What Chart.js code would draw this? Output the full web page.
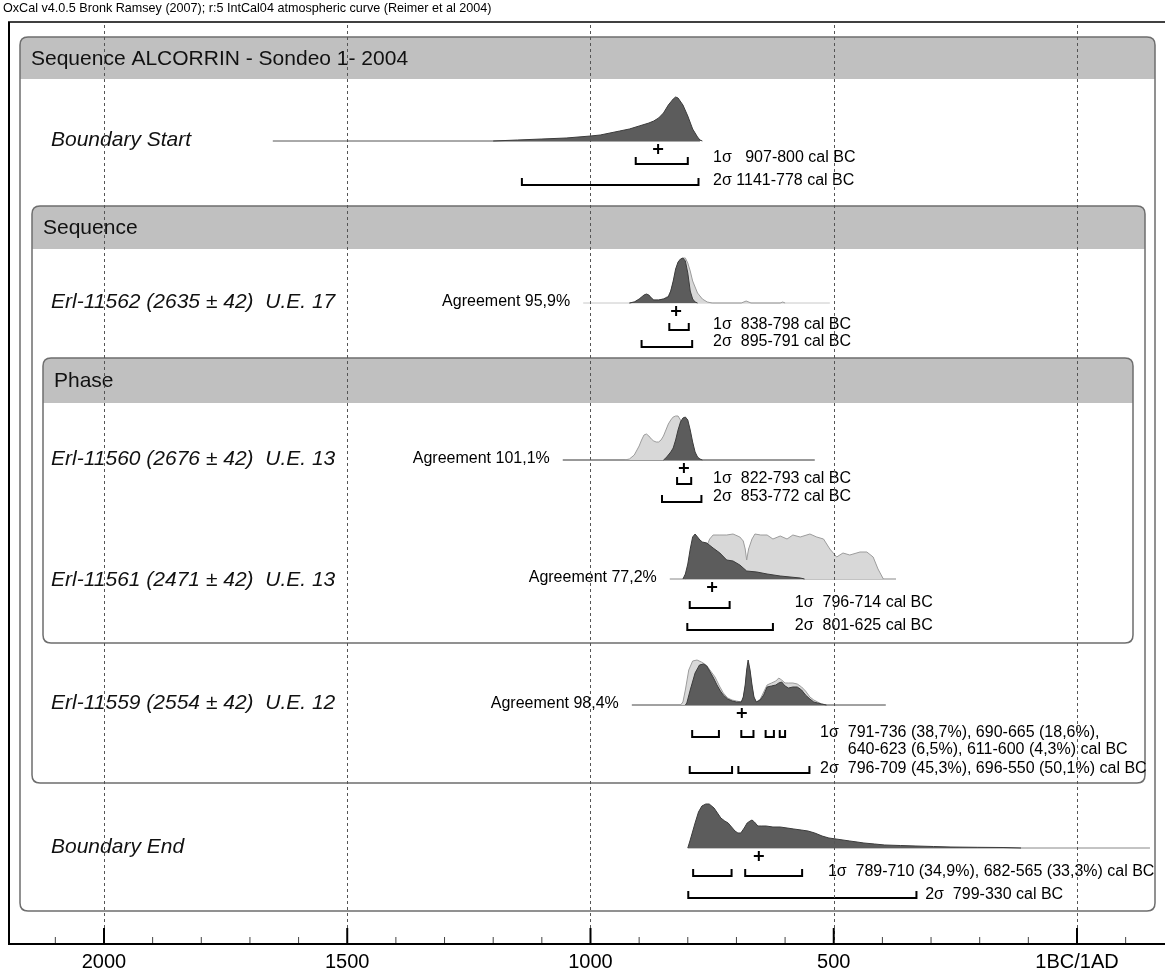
<!DOCTYPE html>
<html><head><meta charset="utf-8">
<script src="https://cdn.jsdelivr.net/npm/chart.js@4.4.1/dist/chart.umd.min.js"></script>
<style>html,body{margin:0;padding:0;background:#fff;}canvas{display:block;}</style>
</head><body>
<canvas id="c" width="1165" height="974"></canvas>
<script>
const FONT = '"Liberation Sans", Arial, Helvetica, sans-serif';

// ---------- texts ----------
const caption = 'OxCal v4.0.5 Bronk Ramsey (2007); r:5 IntCal04 atmospheric curve (Reimer et al 2004)';
const groupTitles = ['Sequence ALCORRIN - Sondeo 1- 2004', 'Sequence', 'Phase'];
const rowNames = ['Boundary Start', 'Erl-11562 (2635 ± 42)  U.E. 17', 'Erl-11560 (2676 ± 42)  U.E. 13',
  'Erl-11561 (2471 ± 42)  U.E. 13', 'Erl-11559 (2554 ± 42)  U.E. 12', 'Boundary End'];
const agreements = [null, 'Agreement 95,9%', 'Agreement 101,1%', 'Agreement 77,2%', 'Agreement 98,4%', null];

// ---------- summary values (years cal BC; negative = AD) ----------
const meanYears = [861, 824, 808, 750, 689, 654];
const sigma1Ranges = [[[907, 800]], [[838, 798]], [[822, 793]], [[796, 714]],
  [[791, 736], [690, 665], [640, 623], [611, 600]], [[789, 710], [682, 565]]];
const sigma2Ranges = [[[1141, 778]], [[895, 791]], [[853, 772]], [[801, 625]],
  [[796, 709], [696, 550]], [[799, 330]]];
const sigma1Labels = [['1σ   907-800 cal BC'], ['1σ  838-798 cal BC'], ['1σ  822-793 cal BC'], ['1σ  796-714 cal BC'],
  ['1σ  791-736 (38,7%), 690-665 (18,6%),', '640-623 (6,5%), 611-600 (4,3%) cal BC'],
  ['1σ  789-710 (34,9%), 682-565 (33,3%) cal BC']];
const sigma2Labels = ['2σ 1141-778 cal BC', '2σ  895-791 cal BC', '2σ  853-772 cal BC', '2σ  801-625 cal BC',
  '2σ  796-709 (45,3%), 696-550 (50,1%) cal BC', '2σ  799-330 cal BC'];
const sigma1TextYears = [748, 748, 748, 580, 528, 512];
const sigma2TextYears = [748, 748, 748, 580, 528, 312];
const lineRanges = [[1653, 775], [1015, 508], [1057, 539], [837, 372], [915, 393], [800, -150]];

// ---------- axis ----------
const axisMajorYears = [2000, 1500, 1000, 500, 0];
const axisMinorStep = 100;
const axisMin = -2197.3, axisMax = 180.9;

// ---------- probability distributions (relative heights) ----------
const bStartYears = [1200,1150,1100,1050,1000,980,960,940,920,900,880,870,860,850,840,830,825,820,810,800,790,780,775,770];
const bStartPost  = [0,1,2,3,5,6,8,10,12,15,18,20,23,28,36,42,44,43,36,25,12,4,1,0];

const e62Years = [920,910,900,890,885,880,875,870,860,850,840,835,830,825,820,815,810,805,800,795,790,785,780];
const e62Post  = [0,1,4,8,9,8,5,3,3,4,6,12,22,34,41,44,45,42,30,12,4,1,0];
const e62LYears = [920,910,900,890,885,880,870,860,850,840,835,830,825,820,815,810,805,800,795,790,780,770,760,750,690,680,670,610,605,600];
const e62Like   = [0,1,3,7,8,7,3,3,4,7,12,20,30,38,43,45,45,40,32,22,10,4,1,0,0,2,0,0,1,0];

const e60LYears = [930,920,910,900,895,890,885,880,875,870,865,860,855,850,845,840,835,830,825,820,815,810,805,800,790,780,770];
const e60Like   = [0,1,5,14,20,25,26,24,21,19,18,18,20,24,30,36,40,43,44,44,40,30,18,10,4,1,0];
const e60Years = [850,845,840,835,830,825,820,815,810,805,800,795,790,785,780,775,770];
const e60Post  = [0,2,5,8,12,20,30,38,42,43,40,30,18,8,3,1,0];

const e61Years = [810,805,800,795,790,785,780,775,770,761,748,734,720,707,693,679,658,637,610,569,560];
const e61Post  = [0,5,15,30,42,45,42,39,37,36,31,26,19,18,14,8,7,5,3,1,0];
const e61LYears = [805,800,790,782,775,768,761,755,748,734,720,707,693,686,682,679,675,668,662,650,637,625,610,596,584,569,549,535,521,508,494,481,467,446,432,419,409,398];
const e61Like   = [0,2,5,9,18,26,33,40,44,44,44,45,42,38,30,19,30,40,45,44,44,40,43,40,44,42,45,42,40,30,22,26,24,27,27,22,10,0];

const e59Years = [805,802,795,785,776,768,761,754,747,740,733,727,718,709,700,690,686,682,679,676,672,668,664,659,651,644,637,628,619,613,607,600,593,584,575,566,558,549,541,533,525,515];
const e59Post  = [0,2,15,32,40,41,39,33,27,20,14,10,6,4,3,3,8,20,35,45,35,20,8,3,5,10,18,19,20,22,23,19,17,18,18,15,10,6,3,2,1,0];
const e59LYears = [815,810,805,798,790,781,772,762,753,744,735,727,718,709,700,690,686,682,679,676,672,668,664,659,651,644,637,628,619,613,607,600,593,584,575,566,558,549,541,533,525,515];
const e59Like   = [0,3,15,35,44,45,43,40,34,28,19,12,7,5,4,3,7,18,32,42,32,18,7,3,6,13,20,22,24,27,25,22,22,22,21,18,14,8,5,3,1,0];

const bEndYears = [800,795,785,778,771,763,756,746,739,732,724,717,710,703,697,691,684,678,672,668,663,656,648,639,625,610,596,582,567,553,539,524,510,495,481,467,452,438,416,395,363,331,295,259,205,152,115];
const bEndPost  = [0,8,25,36,42,44,44,40,35,30,27,25,21,17,15,15,20,25,27,28,26,22,22,22,21,21,20,19,18,17,15,12,10,9,8,7,6,5,4,3,2.5,2,1.5,1,0.7,0.5,0];

// ---------- layout (page pixels) ----------
const rowLayout = [
  {base:141, label:140, s1:164, s1t:158, s2:185, s2t:181, lineColor:'#555'},
  {base:303, label:302, s1:330, s1t:325, s2:347, s2t:342, lineColor:'#c8c8c8'},
  {base:460, label:459, s1:484, s1t:479, s2:502, s2t:497, lineColor:'#333'},
  {base:579, label:580, s1:608, s1t:603, s2:630, s2t:626, lineColor:'#888'},
  {base:705, label:703, s1:737, s1t:733, s2:773, s2t:769, lineColor:'#444'},
  {base:848, label:847, s1:876, s1t:872, s2:898, s2t:895, lineColor:'#888'}
];
const boxes = [
  {l:20, r:1155, t:37, h:79, b:911},
  {l:32, r:1145, t:206, h:249, b:783},
  {l:43, r:1133, t:358, h:403, b:643}
];

const rowPosterior = [[bStartYears,bStartPost],[e62Years,e62Post],[e60Years,e60Post],[e61Years,e61Post],[e59Years,e59Post],[bEndYears,bEndPost]];
const rowLikelihood = [null,[e62LYears,e62Like],[e60LYears,e60Like],[e61LYears,e61Like],[e59LYears,e59Like],null];

const DARK_FILL = '#5c5c5c', DARK_LINE = '#3c3c3c', LIGHT_FILL = '#d8d8d8', LIGHT_LINE = '#9c9c9c';

const datasets = [];
rowLayout.forEach((row, i) => {
  const base = row.base;
  datasets.push({
    data: [{x: -lineRanges[i][0], y: base}, {x: -lineRanges[i][1], y: base}],
    borderColor: row.lineColor, borderWidth: 1, fill: false, pointRadius: 0, order: 3
  });
  if (rowLikelihood[i]) {
    const [ys, vs] = rowLikelihood[i];
    datasets.push({
      data: ys.map((y, k) => ({x: -y, y: base - vs[k]})),
      borderColor: LIGHT_LINE, backgroundColor: LIGHT_FILL, borderWidth: 1,
      fill: {value: base}, pointRadius: 0, tension: 0, order: 2
    });
  }
  const [ys, vs] = rowPosterior[i];
  datasets.push({
    data: ys.map((y, k) => ({x: -y, y: base - vs[k]})),
    borderColor: DARK_LINE, backgroundColor: DARK_FILL, borderWidth: 1,
    fill: {value: base}, pointRadius: 0, tension: 0, order: 1
  });
});

function roundTopRect(ctx, l, t, r, b, rad) {
  ctx.beginPath();
  ctx.moveTo(l, b - rad);
  ctx.lineTo(l, t + rad);
  ctx.quadraticCurveTo(l, t, l + rad, t);
  ctx.lineTo(r - rad, t);
  ctx.quadraticCurveTo(r, t, r, t + rad);
  ctx.lineTo(r, b - rad);
  ctx.quadraticCurveTo(r, b, r - rad, b);
  ctx.lineTo(l + rad, b);
  ctx.quadraticCurveTo(l, b, l, b - rad);
  ctx.closePath();
}

const oxPlugin = {
  id: 'ox',
  beforeDatasetsDraw(chart) {
    const ctx = chart.ctx;
    ctx.save();
    boxes.forEach((bx, i) => {
      ctx.save();
      roundTopRect(ctx, bx.l, bx.t, bx.r, bx.b, 8);
      ctx.clip();
      ctx.fillStyle = '#c0c0c0';
      ctx.fillRect(bx.l, bx.t, bx.r - bx.l, bx.h - bx.t);
      ctx.restore();
      roundTopRect(ctx, bx.l, bx.t, bx.r, bx.b, 8);
      ctx.strokeStyle = '#6e6e6e';
      ctx.lineWidth = 1.5;
      ctx.stroke();
      ctx.fillStyle = '#111';
      ctx.font = '21px ' + FONT;
      ctx.textBaseline = 'middle';
      ctx.textAlign = 'left';
      ctx.fillText(groupTitles[i], bx.l + 11, (bx.t + bx.h) / 2 + 1);
    });
    ctx.font = 'italic 21px ' + FONT;
    ctx.fillStyle = '#111';
    rowLayout.forEach((row, i) => {
      ctx.fillText(rowNames[i], 51, row.label);
    });
    ctx.restore();
  },
  afterDatasetsDraw(chart) {
    const ctx = chart.ctx;
    const xs = chart.scales.x;
    const px = yr => xs.getPixelForValue(-yr);
    const area = chart.chartArea;
    ctx.save();
    ctx.fillStyle = '#000';
    ctx.strokeStyle = '#000';
    ctx.textBaseline = 'middle';
    rowLayout.forEach((row, i) => {
      if (agreements[i]) {
        ctx.font = '16px ' + FONT;
        ctx.textAlign = 'right';
        ctx.fillText(agreements[i], px(lineRanges[i][0]) - 13, row.base - 1);
      }
      const cx = px(meanYears[i]), cy = row.base + 8;
      ctx.lineWidth = 2;
      ctx.beginPath();
      ctx.moveTo(cx - 5, cy); ctx.lineTo(cx + 5, cy);
      ctx.moveTo(cx, cy - 5); ctx.lineTo(cx, cy + 5);
      ctx.stroke();
      const bracket = (a, b, y) => {
        const x1 = px(a), x2 = px(b);
        ctx.beginPath();
        ctx.moveTo(x1, y - 7); ctx.lineTo(x1, y); ctx.lineTo(x2, y); ctx.lineTo(x2, y - 7);
        ctx.stroke();
      };
      sigma1Ranges[i].forEach(r => bracket(r[0], r[1], row.s1));
      sigma2Ranges[i].forEach(r => bracket(r[0], r[1], row.s2));
      ctx.font = '16px ' + FONT;
      ctx.textAlign = 'left';
      const t1 = px(sigma1TextYears[i]);
      ctx.fillText(sigma1Labels[i][0], t1, row.s1t);
      if (sigma1Labels[i][1]) {
        const indent = ctx.measureText('1σ  ').width;
        ctx.fillText(sigma1Labels[i][1], t1 + indent, row.s1t + 17);
      }
      ctx.fillText(sigma2Labels[i], px(sigma2TextYears[i]), row.s2t);
    });
    ctx.strokeStyle = '#555';
    ctx.lineWidth = 1;
    ctx.setLineDash([3, 3]);
    axisMajorYears.forEach(yr => {
      const x = Math.round(px(yr)) + 0.5;
      ctx.beginPath();
      ctx.moveTo(x, area.top + 3);
      ctx.lineTo(x, area.bottom);
      ctx.stroke();
    });
    ctx.setLineDash([]);
    const first = Math.ceil(axisMin / axisMinorStep) * axisMinorStep;
    for (let v = first; v <= axisMax; v += axisMinorStep) {
      const major = axisMajorYears.includes(Math.abs(v)) && v <= 0;
      const x = xs.getPixelForValue(v);
      ctx.beginPath();
      ctx.lineWidth = major ? 2 : 1;
      ctx.strokeStyle = major ? '#000' : '#444';
      ctx.moveTo(x, area.bottom - (major ? 16 : 7));
      ctx.lineTo(x, area.bottom);
      ctx.stroke();
    }
    ctx.strokeStyle = '#000';
    ctx.lineWidth = 2;
    ctx.beginPath();
    ctx.moveTo(area.left, area.bottom);
    ctx.lineTo(area.right, area.bottom);
    ctx.moveTo(area.left + 1, area.bottom);
    ctx.lineTo(area.left + 1, area.top);
    ctx.stroke();
    ctx.lineWidth = 1.5;
    ctx.beginPath();
    ctx.moveTo(area.left, area.top);
    ctx.lineTo(area.right, area.top);
    ctx.stroke();
    ctx.font = '12.6px ' + FONT;
    ctx.fillStyle = '#000';
    ctx.textAlign = 'left';
    ctx.textBaseline = 'middle';
    ctx.fillText(caption, 3, 9);
    ctx.restore();
  }
};

new Chart(document.getElementById('c'), {
  type: 'line',
  data: {datasets},
  options: {
    responsive: false,
    devicePixelRatio: 1,
    animation: false,
    events: [],
    layout: {padding: {left: 8, top: 22, right: 0, bottom: 0}},
    plugins: {legend: {display: false}, tooltip: {enabled: false}},
    elements: {line: {tension: 0}},
    scales: {
      x: {
        type: 'linear',
        min: axisMin, max: axisMax,
        border: {display: false},
        grid: {display: true, drawOnChartArea: false, drawTicks: false, color: 'rgba(0,0,0,0)'},
        afterBuildTicks: s => { s.ticks = axisMajorYears.map(y => ({value: -y})); },
        afterFit: s => { s.height = 30; },
        ticks: {
          autoSkip: false, maxRotation: 0, padding: 6,
          color: '#000', font: {size: 20, family: FONT},
          callback: v => v === 0 ? '1BC/1AD' : String(Math.abs(v))
        }
      },
      y: {type: 'linear', display: false, min: 22, max: 944, reverse: true}
    }
  },
  plugins: [oxPlugin]
});
</script>
</body></html>
